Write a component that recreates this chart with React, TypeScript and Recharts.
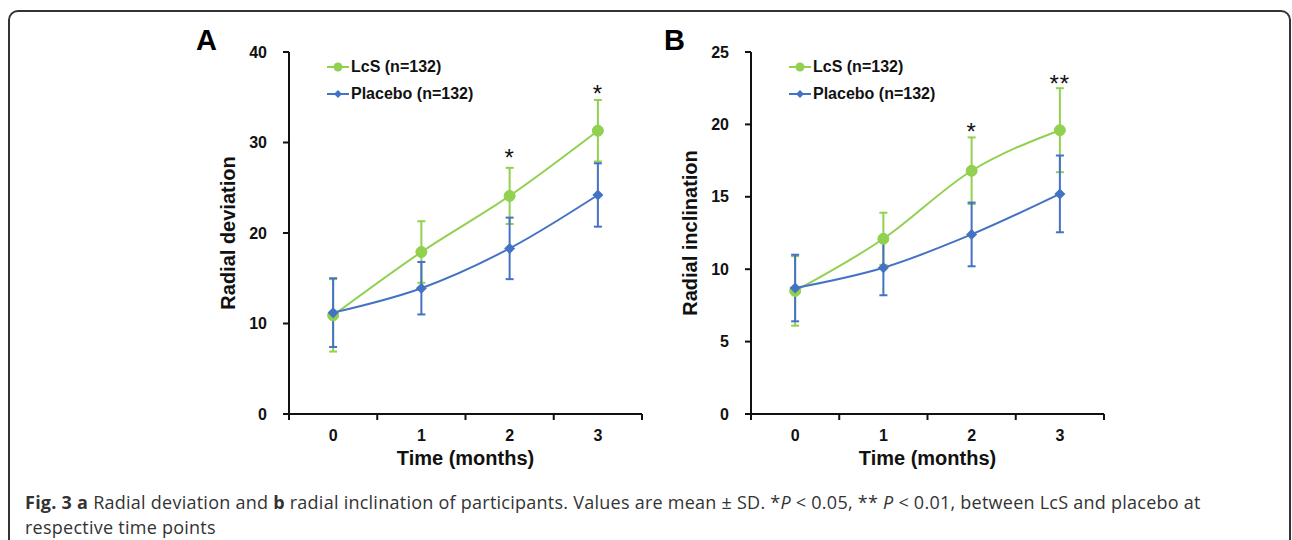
import React from 'react';
import { LineChart, Line, XAxis, YAxis, ErrorBar, ReferenceDot, Legend } from 'recharts';

// ---------- data ----------
const months = [0, 1, 2, 3];

const deviationLcS = [10.9, 17.9, 24.1, 31.3];
const deviationLcSSD = [4.0, 3.4, 3.1, 3.4];
const deviationPlacebo = [11.2, 13.9, 18.3, 24.2];
const deviationPlaceboSD = [3.8, 2.9, 3.4, 3.5];

const inclinationLcS = [8.5, 12.1, 16.8, 19.6];
const inclinationLcSSD = [2.4, 1.8, 2.3, 2.9];
const inclinationPlacebo = [8.7, 10.1, 12.4, 15.2];
const inclinationPlaceboSD = [2.3, 1.9, 2.2, 2.65];

const deviationTicks = [0, 10, 20, 30, 40];
const inclinationTicks = [0, 5, 10, 15, 20, 25];

const deviationStarMonths = [2, 3];
const deviationStarY = [28.3, 35.4];
const deviationStarText = ['*', '*'];

const inclinationStarMonths = [2, 3];
const inclinationStarY = [19.5, 22.8];
const inclinationStarText = ['*', '**'];

const seriesNames = ['LcS (n=132)', 'Placebo (n=132)'];
const boundaryTicks = [-0.5, 0.5, 1.5, 2.5, 3.5];

const GREEN = '#92d050';
const BLUE = '#4472c4';
const FONT = '"Liberation Sans", Arial, sans-serif';

const build = (a: number[], aSD: number[], b: number[], bSD: number[]) =>
  months.map((m, i) => ({ month: m, lcs: a[i], lcsSD: aSD[i], placebo: b[i], placeboSD: bSD[i] }));

const deviationData = build(deviationLcS, deviationLcSSD, deviationPlacebo, deviationPlaceboSD);
const inclinationData = build(inclinationLcS, inclinationLcSSD, inclinationPlacebo, inclinationPlaceboSD);

const Diamond = (props: any) => {
  const { cx, cy, fill, r = 5 } = props;
  if (cx == null || cy == null) return null;
  return (
    <path
      d={`M${cx},${cy - r} L${cx + r},${cy} L${cx},${cy + r} L${cx - r},${cy} Z`}
      fill={fill}
      stroke="none"
    />
  );
};

const LegendContent = (props: any) => {
  const { payload } = props;
  return (
    <div style={{ fontFamily: FONT, fontWeight: 'bold', fontSize: 16, color: '#111' }}>
      {(payload || []).map((entry: any, i: number) => (
        <div key={i} style={{ display: 'flex', alignItems: 'center', height: 27 }}>
          <svg width={22} height={12} style={{ marginRight: 2 }}>
            <line x1={0} y1={6} x2={22} y2={6} stroke={entry.color} strokeWidth={2} />
            {entry.dataKey === 'lcs' ? (
              <circle cx={11} cy={6} r={4.5} fill={entry.color} />
            ) : (
              <Diamond cx={11} cy={6} r={4} fill={entry.color} />
            )}
          </svg>
          <span>{entry.value}</span>
        </div>
      ))}
    </div>
  );
};

const tickStyle = { fontFamily: FONT, fontWeight: 'bold' as const, fontSize: 16, fill: '#111' };

type PanelProps = {
  data: any[];
  yMax: number;
  yTicks: number[];
  yTitle: string;
  starMonths: number[];
  starY: number[];
  starText: string[];
};

const Panel = ({ data, yMax, yTicks, yTitle, starMonths, starY, starText }: PanelProps) => (
  <LineChart width={480} height={460} data={data} margin={{ top: 32, right: 18, left: 0, bottom: 0 }}>
    <XAxis
      xAxisId="b"
      type="number"
      dataKey="month"
      domain={[-0.5, 3.5]}
      ticks={months}
      axisLine={false}
      tickLine={false}
      tickSize={0}
      tickMargin={10}
      height={60}
      tick={tickStyle}
      allowDataOverflow
      label={{
        value: 'Time (months)',
        position: 'insideBottom',
        offset: 15,
        style: { fontFamily: FONT, fontWeight: 'bold', fontSize: 20, fill: '#111' },
      }}
    />
    <XAxis
      xAxisId="a"
      type="number"
      dataKey="month"
      domain={[-0.5, 3.5]}
      ticks={boundaryTicks}
      tickFormatter={() => ''}
      tickSize={6}
      height={6}
      axisLine={{ stroke: '#111', strokeWidth: 2 }}
      tickLine={{ stroke: '#111', strokeWidth: 2 }}
      allowDataOverflow
    />
    <YAxis
      type="number"
      domain={[0, yMax]}
      ticks={yTicks}
      width={109}
      tickSize={6}
      tickMargin={16}
      tick={tickStyle}
      axisLine={{ stroke: '#111', strokeWidth: 2 }}
      tickLine={{ stroke: '#111', strokeWidth: 2 }}
      label={{
        value: yTitle,
        angle: -90,
        position: 'insideLeft',
        offset: 48,
        style: { textAnchor: 'middle', fontFamily: FONT, fontWeight: 'bold', fontSize: 20, fill: '#111' },
      }}
    />
    <Legend
      layout="vertical"
      align="center"
      verticalAlign="middle"
      wrapperStyle={{ left: 147, top: 33, width: 200 }}
      content={<LegendContent />}
    />
    <Line
      xAxisId="a"
      type="monotone"
      dataKey="lcs"
      name={seriesNames[0]}
      stroke={GREEN}
      strokeWidth={2}
      dot={{ r: 5.5, fill: GREEN, stroke: GREEN, strokeWidth: 1 }}
      activeDot={false}
      isAnimationActive={false}
    >
      <ErrorBar dataKey="lcsSD" direction="y" width={4} stroke={GREEN} strokeWidth={2} />
    </Line>
    <Line
      xAxisId="a"
      type="monotone"
      dataKey="placebo"
      name={seriesNames[1]}
      stroke={BLUE}
      strokeWidth={2}
      dot={(p: any) => <Diamond key={`d-${p.index}`} cx={p.cx} cy={p.cy} r={5.5} fill={BLUE} />}
      activeDot={false}
      isAnimationActive={false}
    >
      <ErrorBar dataKey="placeboSD" direction="y" width={4} stroke={BLUE} strokeWidth={2} />
    </Line>
    {starMonths.map((m, i) => (
      <ReferenceDot
        key={`s-${i}`}
        xAxisId="a"
        x={m}
        y={starY[i]}
        r={0}
        fill="none"
        stroke="none"
        ifOverflow="visible"
        label={{ value: starText[i], position: 'center', style: { fontFamily: FONT, fontSize: 24, fill: '#111', letterSpacing: '1px' } }}
      />
    ))}
  </LineChart>
);

export default function App() {
  return (
    <div style={{ position: 'absolute', left: 0, top: 0, width: 1292, height: 540, overflow: 'hidden', background: '#fff' }}>
      <div
        style={{
          position: 'absolute',
          left: 8,
          top: 10,
          width: 1283,
          height: 600,
          border: '2px solid #333',
          borderRadius: 10,
          boxSizing: 'border-box',
        }}
      />
      <div style={{ position: 'absolute', left: 196, top: 24, fontFamily: FONT, fontWeight: 'bold', fontSize: 29, color: '#000' }}>A</div>
      <div style={{ position: 'absolute', left: 664, top: 24, fontFamily: FONT, fontWeight: 'bold', fontSize: 29, color: '#000' }}>B</div>
      <div style={{ position: 'absolute', left: 180, top: 20 }}>
        <Panel
          data={deviationData}
          yMax={40}
          yTicks={deviationTicks}
          yTitle="Radial deviation"
          starMonths={deviationStarMonths}
          starY={deviationStarY}
          starText={deviationStarText}
        />
      </div>
      <div style={{ position: 'absolute', left: 642, top: 20 }}>
        <Panel
          data={inclinationData}
          yMax={25}
          yTicks={inclinationTicks}
          yTitle="Radial inclination"
          starMonths={inclinationStarMonths}
          starY={inclinationStarY}
          starText={inclinationStarText}
        />
      </div>
      <div
        style={{
          position: 'absolute',
          left: 25,
          top: 490,
          fontFamily: '"Open Sans", sans-serif',
          fontSize: 18,
          letterSpacing: '0.25px',
          lineHeight: '25px',
          color: '#333',
          whiteSpace: 'nowrap',
        }}
      >
        <b>Fig. 3 a</b> Radial deviation and <b>b</b> radial inclination of participants. Values are mean ± SD. *<i>P</i> &lt; 0.05, ** <i>P</i> &lt; 0.01, between LcS and placebo at
        <br />
        respective time points
      </div>
    </div>
  );
}
